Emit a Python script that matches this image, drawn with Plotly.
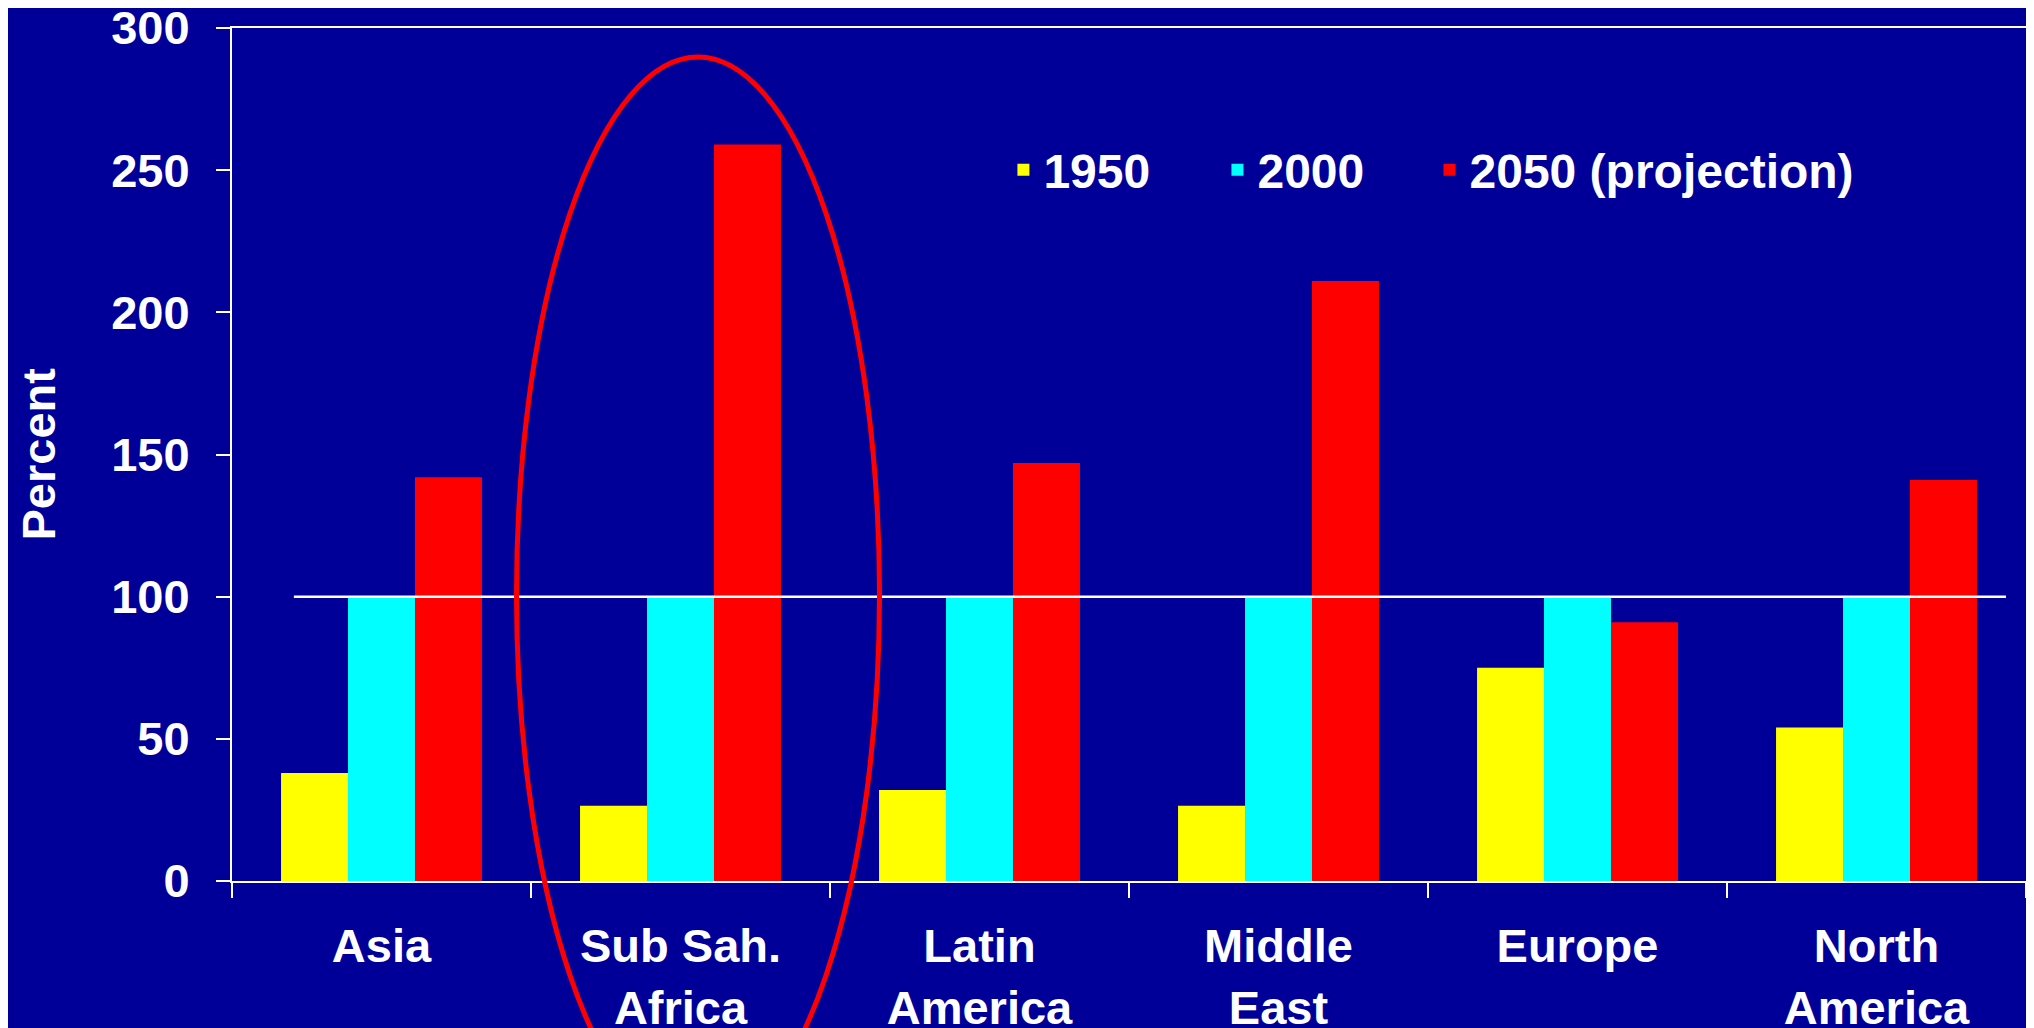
import plotly.graph_objects as go

categories = ["Asia", "Sub Sah.<br>Africa", "Latin<br>America", "Middle<br>East", "Europe", "North<br>America"]
series_names = ["1950", "2000", "2050 (projection)"]
values_1950 = [38, 26.5, 32, 26.5, 75, 54]
values_2000 = [100, 100, 100, 100, 100, 100]
values_2050 = [142, 259, 147, 211, 91, 141]
colors = ["#FFFF00", "#00FFFF", "#FF0000"]
y_ticks = [0, 50, 100, 150, 200, 250, 300]
reference_level = 100

BG = "#000099"
FONT = "Liberation Sans, Arial, sans-serif"
legend_ids = ["legend", "legend2", "legend3"]
legend_x = [0.430, 0.5493, 0.6675]

fig = go.Figure()
for name, vals, col, lid in zip(series_names, [values_1950, values_2000, values_2050], colors, legend_ids):
    fig.add_trace(go.Bar(x=categories, y=vals, name=name, legend=lid,
                         marker=dict(color=col, line=dict(width=0))))

legend_common = dict(orientation="h", xanchor="left", y=0.8335, yanchor="middle",
                     bgcolor="rgba(0,0,0,0)",
                     font=dict(family=FONT, size=48, color="white", weight="bold"))

fig.update_layout(
    width=2034, height=1028,
    margin=dict(l=224, r=16, t=20, b=155),
    paper_bgcolor=BG, plot_bgcolor=BG,
    barmode="group", bargap=0.328, bargroupgap=0,
    font=dict(family=FONT, size=47, color="white", weight="bold"),
    showlegend=True,
    legend=dict(x=legend_x[0], **legend_common),
    legend2=dict(x=legend_x[1], **legend_common),
    legend3=dict(x=legend_x[2], **legend_common),
)
fig.update_xaxes(
    type="category", showline=True, linecolor="white", linewidth=2, mirror=True,
    ticks="outside", tickson="boundaries", ticklen=15, tickwidth=2, tickcolor="white",
    showgrid=False, zeroline=False, automargin=False, ticklabeloverflow="allow",
    tickfont=dict(family=FONT, size=47, color="white", weight="bold"),
    ticklabelstandoff=23,
)
fig.update_yaxes(
    range=[0, 300], tickvals=y_ticks, showline=True, linecolor="white", linewidth=2, mirror=True,
    ticks="outside", ticklen=14, tickwidth=2, tickcolor="white",
    showgrid=False, zeroline=False, automargin=False, ticklabeloverflow="allow",
    tickfont=dict(family=FONT, size=47, color="white", weight="bold"),
    ticklabelstandoff=17,
)

# Reference line at 100
fig.add_shape(type="line", xref="x", yref="y", x0=-0.293, x1=5.433, y0=reference_level, y1=reference_level,
              line=dict(color="white", width=2.5), layer="above")

# Ellipse highlighting Sub-Saharan Africa
fig.add_shape(type="circle", xref="x", yref="paper", x0=0.4515, x1=1.6656, y0=-0.294, y1=0.966,
              line=dict(color="#FF0000", width=5), fillcolor="rgba(0,0,0,0)", layer="above")

fig.add_annotation(text="Percent", xref="paper", yref="paper", x=(38 - 232) / 1794, y=0.5,
                   xanchor="center", yanchor="middle", textangle=-90, showarrow=False,
                   font=dict(family=FONT, size=47, color="white", weight="bold"))

fig.write_html("out.html")
